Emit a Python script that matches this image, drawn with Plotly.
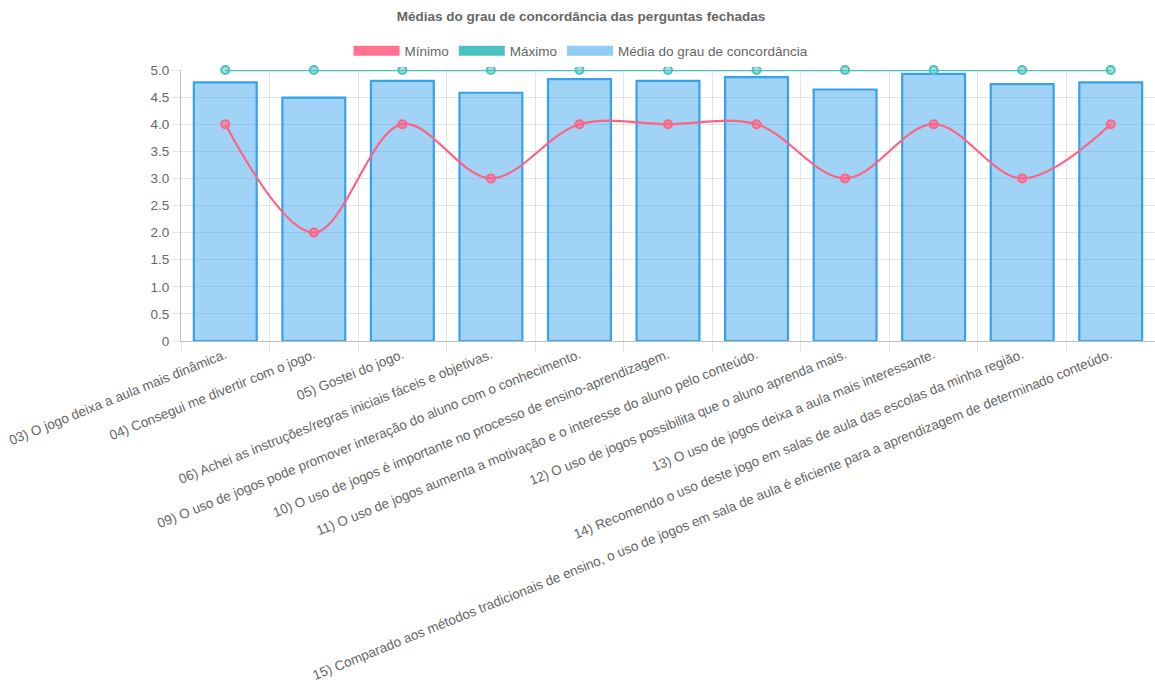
import plotly.graph_objects as go

categories = [
    "03) O jogo deixa a aula mais dinâmica.",
    "04) Consegui me divertir com o jogo.",
    "05) Gostei do jogo.",
    "06) Achei as instruções/regras iniciais fáceis e objetivas.",
    "09) O uso de jogos pode promover interação do aluno com o conhecimento.",
    "10) O uso de jogos é importante no processo de ensino-aprendizagem.",
    "11) O uso de jogos aumenta a motivação e o interesse do aluno pelo conteúdo.",
    "12) O uso de jogos possibilita que o aluno aprenda mais.",
    "13) O uso de jogos deixa a aula mais interessante.",
    "14) Recomendo o uso deste jogo em salas de aula das escolas da minha região.",
    "15) Comparado aos métodos tradicionais de ensino, o uso de jogos em sala de aula é eficiente para a aprendizagem de determinado conteúdo.",
]
minimo = [4, 2, 4, 3, 4, 4, 4, 3, 4, 3, 4]
maximo = [5, 5, 5, 5, 5, 5, 5, 5, 5, 5, 5]
media = [4.77, 4.49, 4.80, 4.58, 4.83, 4.80, 4.87, 4.64, 4.93, 4.74, 4.77]

y_ticks = [0, 0.5, 1, 1.5, 2, 2.5, 3, 3.5, 4, 4.5, 5]
y_ticktext = ["0", "0.5", "1.0", "1.5", "2.0", "2.5", "3.0", "3.5", "4.0", "4.5", "5.0"]

PINK = "rgb(255,99,132)"
TEAL = "rgb(75,192,192)"
BLUE = "rgb(54,162,235)"
FONT = "Liberation Sans, Arial, Helvetica, sans-serif"
GREY = "#666666"
FS = 13.5

fig = go.Figure()

fig.add_trace(go.Bar(
    x=categories, y=media, name="Média do grau de concordância",
    marker=dict(color="rgba(54,162,235,0.47)", line=dict(color=BLUE, width=2.2)),
    showlegend=False,
))
fig.add_trace(go.Scatter(
    x=categories, y=minimo, name="Mínimo", mode="lines+markers",
    line=dict(color=PINK, width=2.2, shape="spline", smoothing=1.0),
    marker=dict(size=8, color="rgba(255,99,132,0.5)", line=dict(color=PINK, width=2)),
    cliponaxis=False, showlegend=False,
))
fig.add_trace(go.Scatter(
    x=categories, y=maximo, name="Máximo", mode="lines+markers",
    line=dict(color=TEAL, width=2.5),
    marker=dict(size=8, color="rgba(75,192,192,0.5)", line=dict(color=TEAL, width=2)),
    cliponaxis=False, showlegend=False,
))

# legend-only entries (wide box symbols like the original)
for name, col in [("Mínimo", "rgba(255,99,132,0.9)"), ("Máximo", "rgba(75,192,192,1)"),
                  ("Média do grau de concordância", "rgba(54,162,235,0.55)")]:
    fig.add_trace(go.Scatter(x=[None], y=[None], name=name, mode="lines",
                             line=dict(color=col, width=10)))

fig.update_layout(
    width=1155, height=686,
    margin=dict(l=181, r=0, t=70, b=345, autoexpand=False),
    paper_bgcolor="white", plot_bgcolor="white",
    barmode="overlay", bargap=0.29,
    font=dict(family=FONT, size=FS, color=GREY),
    title=dict(text="<b>Médias do grau de concordância das perguntas fechadas</b>",
               x=581 / 1155, xref="container", xanchor="center",
               y=1 - 16 / 686, yref="container", yanchor="middle",
               font=dict(size=FS, color=GREY, family=FONT)),
    legend=dict(orientation="h", x=581 / 1155, xref="container", xanchor="center",
                y=1 - 51 / 686, yref="container", yanchor="middle",
                font=dict(size=FS, color=GREY), itemwidth=46,
                traceorder="normal"),
    xaxis=dict(type="category", tickson="boundaries", tickangle=-22,
               showgrid=True, gridcolor="rgba(0,0,0,0.1)", gridwidth=1,
               ticks="outside", ticklen=10, tickcolor="rgba(0,0,0,0.1)",
               showline=True, linecolor="rgba(0,0,0,0.25)", linewidth=1,
               tickfont=dict(size=FS, color=GREY), automargin=False,
               range=[-0.5, 10.5]),
    yaxis=dict(range=[0, 5], tickvals=y_ticks, ticktext=y_ticktext,
               showgrid=True, gridcolor="rgba(0,0,0,0.1)", gridwidth=1,
               ticks="outside", ticklen=8, tickcolor="rgba(0,0,0,0.1)",
               showline=True, linecolor="rgba(0,0,0,0.25)", linewidth=1,
               zeroline=False, tickfont=dict(size=FS, color=GREY), automargin=False),
)

fig.write_html("out.html")
